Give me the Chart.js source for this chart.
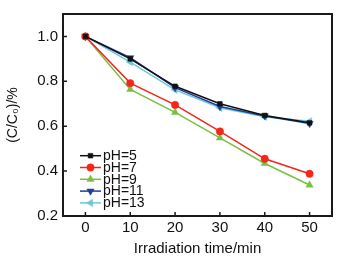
<!DOCTYPE html>
<html>
<head>
<meta charset="utf-8">
<script src="https://cdn.jsdelivr.net/npm/chart.js@4/dist/chart.umd.min.js"></script>
<style>
html,body{margin:0;padding:0;background:#fff;}
#wrap{width:342px;height:258px;position:relative;}
</style>
</head>
<body>
<div id="wrap"><canvas id="c" width="342" height="258"></canvas></div>
<script>
const times = [0, 10, 20, 30, 40, 50];
const xTickValues = [0, 10, 20, 30, 40, 50];
const yTickValues = [0.2, 0.4, 0.6, 0.8, 1.0];
const seriesLabels = ['pH=5', 'pH=7', 'pH=9', 'pH=11', 'pH=13'];
const pH5  = [1.0, 0.900, 0.778, 0.700, 0.648, 0.615];
const pH7  = [1.0, 0.792, 0.695, 0.577, 0.455, 0.388];
const pH9  = [1.0, 0.764, 0.662, 0.548, 0.434, 0.338];
const pH11 = [1.0, 0.905, 0.772, 0.688, 0.646, 0.612];
const pH13 = [1.0, 0.886, 0.762, 0.682, 0.642, 0.622];

const colors = ['#111111', '#f2261b', '#78c043', '#1d3f9c', '#6ec6dc'];
const shapes = ['rect', 'circle', 'triangle', 'triangle', 'triangle'];
const rotations = [0, 0, 0, 180, 270];
const radii = [3.3, 3.7, 4.2, 4.2, 4.2];
const allSeries = [pH5, pH7, pH9, pH11, pH13];

const datasets = allSeries.map((vals, i) => ({
  label: seriesLabels[i],
  data: vals.map((v, j) => ({x: times[j], y: v})),
  borderColor: colors[i],
  backgroundColor: colors[i],
  borderWidth: 1.5,
  pointStyle: shapes[i],
  pointRotation: rotations[i],
  pointRadius: radii[i],
  pointBorderWidth: 0.5,
  tension: 0
}));

const FONT = "'Liberation Sans', Arial, sans-serif";

const frameAndTicks = {
  id: 'frameAndTicks',
  afterDatasetsDraw(chart) {
    const ctx = chart.ctx;
    const a = chart.chartArea;
    const xs = chart.scales.x, ys = chart.scales.y;
    ctx.save();
    ctx.strokeStyle = '#1a1a1a';
    ctx.lineWidth = 1.5;
    ctx.beginPath();
    xTickValues.forEach(v => {
      const px = xs.getPixelForValue(v);
      ctx.moveTo(px, a.bottom); ctx.lineTo(px, a.bottom - 4);
    });
    yTickValues.forEach(v => {
      const py = ys.getPixelForValue(v);
      ctx.moveTo(a.left, py); ctx.lineTo(a.left + 4, py);
    });
    ctx.stroke();
    ctx.lineWidth = 2;
    ctx.strokeRect(a.left, a.top, a.right - a.left, a.bottom - a.top);
    // legend
    const lx0 = 80, lx1 = 101, mx = 90.5, tx = 103;
    let ly = 155.7;
    ctx.font = '14px ' + FONT;
    ctx.textBaseline = 'middle';
    ctx.textAlign = 'left';
    chart.data.datasets.forEach((ds, i) => {
      ctx.strokeStyle = ds.borderColor;
      ctx.lineWidth = 1.5;
      ctx.beginPath(); ctx.moveTo(lx0, ly); ctx.lineTo(lx1, ly); ctx.stroke();
      ctx.fillStyle = ds.backgroundColor;
      ctx.strokeStyle = ds.borderColor;
      ctx.lineWidth = 0.5;
      Chart.helpers.drawPoint(ctx, {pointStyle: ds.pointStyle, rotation: ds.pointRotation, radius: ds.pointRadius, borderWidth: 0.5}, mx, ly);
      ctx.fillStyle = '#111';
      ctx.fillText(ds.label, tx, ly + 0.5);
      ly += 11.8;
    });
    ctx.restore();
  }
};

new Chart(document.getElementById('c'), {
  type: 'line',
  data: {datasets},
  plugins: [frameAndTicks],
  options: {
    responsive: false,
    animation: false,
    devicePixelRatio: 1,
    layout: {padding: {left: 0, right: 10, top: 12, bottom: 0}},
    plugins: {legend: {display: false}, tooltip: {enabled: false}},
    scales: {
      x: {
        type: 'linear',
        min: -5, max: 55,
        afterBuildTicks: s => { s.ticks = xTickValues.map(v => ({value: v})); },
        afterFit: s => { s.height = 42; },
        grid: {display: false, drawTicks: false},
        border: {display: false},
        ticks: {color: '#111', font: {family: FONT, size: 15}, padding: 3, maxRotation: 0},
        title: {display: true, text: 'Irradiation time/min', color: '#111', font: {family: FONT, size: 15}, padding: {top: 2, bottom: 0}}
      },
      y: {
        type: 'linear',
        min: 0.2, max: 1.1,
        afterBuildTicks: s => { s.ticks = yTickValues.map(v => ({value: v})); },
        afterFit: s => { s.width = 63; },
        grid: {display: false, drawTicks: false},
        border: {display: false},
        ticks: {color: '#111', font: {family: FONT, size: 15}, padding: 5, callback: v => Number(v).toFixed(1)},
        title: {display: true, text: '(C/C\u2080)/%', color: '#111', font: {family: FONT, size: 14}, padding: {top: 5, bottom: 2}}
      }
    }
  }
});
</script>
</body>
</html>
